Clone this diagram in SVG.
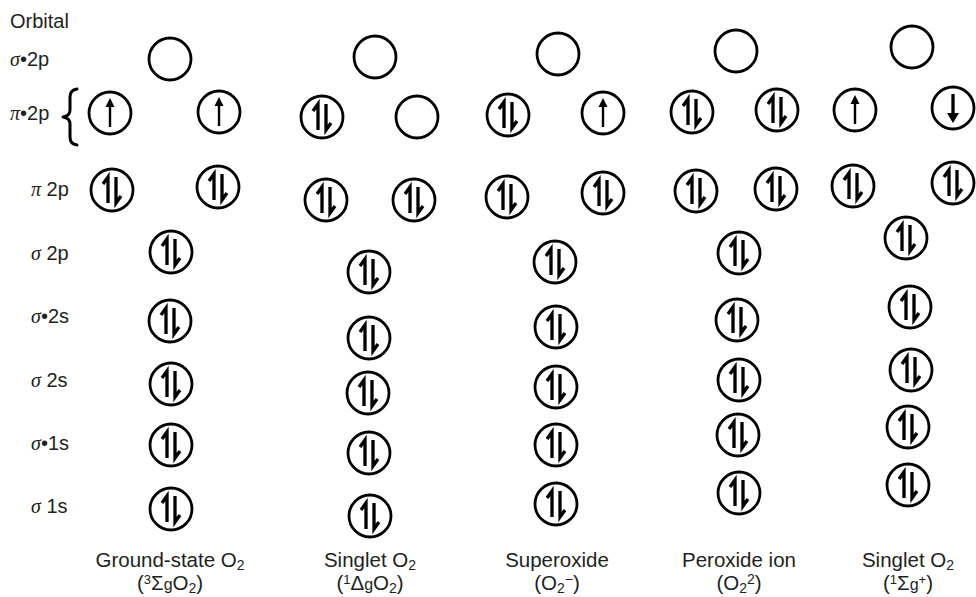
<svg xmlns="http://www.w3.org/2000/svg" xmlns:xlink="http://www.w3.org/1999/xlink" width="976" height="597" viewBox="0 0 976 597">
<style>
  text { font-family: "Liberation Sans", Arial, sans-serif; fill: #231f20; }
  .lab { font-size: 20px; }
  .gr { font-family: "Liberation Serif", "Times New Roman", serif; font-style: italic; }
  .cap { font-size: 20.5px; text-anchor: middle; }
  .orb { fill: #fff; stroke: #000; stroke-width: 2.8; }
  .arr { fill: none; stroke: #000; stroke-width: 3.3; stroke-linejoin: miter; }
  .arr1 { fill: none; stroke: #000; stroke-width: 2.4; }
  .head { fill: #000; stroke: none; }
  .brace { fill: none; stroke: #000; stroke-width: 3; stroke-linejoin: round; stroke-linecap: round; }
</style>
<defs>
  <g id="empty"><circle class="orb" r="21"/></g>
  <g id="pair"><circle class="orb" r="21"/><path class="arr" d="M-4,13 V-13 L-9,-6"/><path class="arr" d="M4,-13 V13 L9,6"/></g>
  <g id="up"><circle class="orb" r="21"/><path class="arr1" d="M0,14 V-8"/><polygon class="head" points="0,-15 -4.5,-6 4.5,-6"/></g>
  <g id="down"><circle class="orb" r="21"/><path class="arr" d="M0,-14 V8"/><polygon class="head" points="0,15 -6,5 6,5"/></g>
</defs>

<g id="row-labels">
  <text class="lab" x="10" y="28">Orbital</text>
  <text class="lab" x="10" y="66"><tspan class="gr">σ</tspan>•2p</text>
  <text class="lab" x="10" y="120"><tspan class="gr">π</tspan>•2p</text>
  <path class="brace" d="M77,89 Q70,90 70,97 V110 Q70,116 63,117 Q70,118 70,124 V137 Q70,144 77,145"/>
  <text class="lab" x="31" y="196"><tspan class="gr">π</tspan>  2p</text>
  <text class="lab" x="31" y="260"><tspan class="gr">σ</tspan>  2p</text>
  <text class="lab" x="31" y="323"><tspan class="gr">σ</tspan>•2s</text>
  <text class="lab" x="31" y="387"><tspan class="gr">σ</tspan>  2s</text>
  <text class="lab" x="31" y="450"><tspan class="gr">σ</tspan>•1s</text>
  <text class="lab" x="31" y="513"><tspan class="gr">σ</tspan>  1s</text>
</g>

<g id="col-ground">
  <use id="g-s2p-star" xlink:href="#empty" x="170" y="59"/>
  <use id="g-p2p-star-a" xlink:href="#up" x="110" y="113"/>
  <use id="g-p2p-star-b" xlink:href="#up" x="219" y="112"/>
  <use id="g-p2p-a" xlink:href="#pair" x="112" y="190"/>
  <use id="g-p2p-b" xlink:href="#pair" x="218" y="187"/>
  <use id="g-s2p" xlink:href="#pair" x="171" y="252"/>
  <use id="g-s2s-star" xlink:href="#pair" x="170" y="321"/>
  <use id="g-s2s" xlink:href="#pair" x="171" y="384"/>
  <use id="g-s1s-star" xlink:href="#pair" x="171" y="445"/>
  <use id="g-s1s" xlink:href="#pair" x="171" y="509"/>
  <text class="cap" x="170" y="567">Ground-state O<tspan font-size="14" dy="3">2</tspan></text>
  <text class="cap" x="170" y="590">(<tspan font-size="13" dy="-6">3</tspan><tspan dy="6">Σ</tspan><tspan font-size="16">g</tspan>O<tspan font-size="14" dy="3">2</tspan><tspan dy="-3">)</tspan></text>
</g>

<g id="col-singlet-delta">
  <use id="d-s2p-star" xlink:href="#empty" x="375" y="57"/>
  <use id="d-p2p-star-a" xlink:href="#pair" x="322" y="117"/>
  <use id="d-p2p-star-b" xlink:href="#empty" x="417" y="117"/>
  <use id="d-p2p-a" xlink:href="#pair" x="326" y="200"/>
  <use id="d-p2p-b" xlink:href="#pair" x="414" y="200"/>
  <use id="d-s2p" xlink:href="#pair" x="369" y="272"/>
  <use id="d-s2s-star" xlink:href="#pair" x="369" y="338"/>
  <use id="d-s2s" xlink:href="#pair" x="368" y="393"/>
  <use id="d-s1s-star" xlink:href="#pair" x="369" y="453"/>
  <use id="d-s1s" xlink:href="#pair" x="370" y="516"/>
  <text class="cap" x="370" y="567">Singlet O<tspan font-size="14" dy="3">2</tspan></text>
  <text class="cap" x="370" y="590">(<tspan font-size="13" dy="-6">1</tspan><tspan dy="6">Δ</tspan><tspan font-size="16">g</tspan>O<tspan font-size="14" dy="3">2</tspan><tspan dy="-3">)</tspan></text>
</g>

<g id="col-superoxide">
  <use id="s-s2p-star" xlink:href="#empty" x="558" y="54"/>
  <use id="s-p2p-star-a" xlink:href="#pair" x="508" y="115"/>
  <use id="s-p2p-star-b" xlink:href="#up" x="603" y="113"/>
  <use id="s-p2p-a" xlink:href="#pair" x="507" y="197"/>
  <use id="s-p2p-b" xlink:href="#pair" x="603" y="193"/>
  <use id="s-s2p" xlink:href="#pair" x="555" y="262"/>
  <use id="s-s2s-star" xlink:href="#pair" x="556" y="327"/>
  <use id="s-s2s" xlink:href="#pair" x="556" y="387"/>
  <use id="s-s1s-star" xlink:href="#pair" x="556" y="445"/>
  <use id="s-s1s" xlink:href="#pair" x="556" y="504"/>
  <text class="cap" x="557" y="567">Superoxide</text>
  <text class="cap" x="557" y="590">(O<tspan font-size="14" dy="3">2</tspan><tspan font-size="14" dy="-9">−</tspan><tspan dy="6">)</tspan></text>
</g>

<g id="col-peroxide">
  <use id="p-s2p-star" xlink:href="#empty" x="736" y="51"/>
  <use id="p-p2p-star-a" xlink:href="#pair" x="692" y="112"/>
  <use id="p-p2p-star-b" xlink:href="#pair" x="777" y="110"/>
  <use id="p-p2p-a" xlink:href="#pair" x="696" y="191"/>
  <use id="p-p2p-b" xlink:href="#pair" x="776" y="189"/>
  <use id="p-s2p" xlink:href="#pair" x="739" y="253"/>
  <use id="p-s2s-star" xlink:href="#pair" x="737" y="320"/>
  <use id="p-s2s" xlink:href="#pair" x="739" y="380"/>
  <use id="p-s1s-star" xlink:href="#pair" x="738" y="435"/>
  <use id="p-s1s" xlink:href="#pair" x="739" y="493"/>
  <text class="cap" x="739" y="567">Peroxide ion</text>
  <text class="cap" x="739" y="590">(O<tspan font-size="14" dy="3">2</tspan><tspan font-size="14" dy="-9">2</tspan><tspan dy="6">)</tspan></text>
</g>

<g id="col-singlet-sigma">
  <use id="x-s2p-star" xlink:href="#empty" x="912" y="47"/>
  <use id="x-p2p-star-a" xlink:href="#up" x="855" y="110"/>
  <use id="x-p2p-star-b" xlink:href="#down" x="953" y="108"/>
  <use id="x-p2p-a" xlink:href="#pair" x="853" y="186"/>
  <use id="x-p2p-b" xlink:href="#pair" x="953" y="183"/>
  <use id="x-s2p" xlink:href="#pair" x="906" y="238"/>
  <use id="x-s2s-star" xlink:href="#pair" x="910" y="307"/>
  <use id="x-s2s" xlink:href="#pair" x="911" y="370"/>
  <use id="x-s1s-star" xlink:href="#pair" x="908" y="427"/>
  <use id="x-s1s" xlink:href="#pair" x="908" y="485"/>
  <text class="cap" x="908" y="567">Singlet O<tspan font-size="14" dy="3">2</tspan></text>
  <text class="cap" x="908" y="590">(<tspan font-size="13" dy="-6">1</tspan><tspan dy="6">Σ</tspan><tspan font-size="16">g</tspan><tspan font-size="13" dy="-6">+</tspan><tspan dy="6">)</tspan></text>
</g>
</svg>
